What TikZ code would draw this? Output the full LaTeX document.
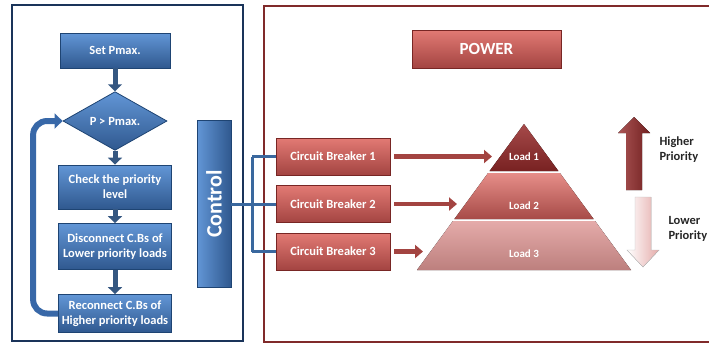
\documentclass[tikz,border=0pt]{standalone}
\usepackage{fontspec}
\setmainfont{Carlito}
\usetikzlibrary{shapes.geometric,arrows.meta}

\definecolor{boxblue}{RGB}{56,104,168}
\definecolor{boxbluetop}{RGB}{98,150,214}
\definecolor{boxblueline}{RGB}{30,68,115}
\definecolor{framblue}{RGB}{26,52,90}
\definecolor{wireblue}{RGB}{58,104,158}
\definecolor{boxred}{RGB}{192,80,77}
\definecolor{boxredtop}{RGB}{226,122,116}
\definecolor{boxredline}{RGB}{120,38,36}
\definecolor{framred}{RGB}{128,42,42}
\definecolor{loaddark}{RGB}{150,42,42}
\definecolor{loadmid}{RGB}{196,88,84}
\definecolor{loadlight}{RGB}{222,150,148}

\begin{document}
\begin{tikzpicture}[x=1pt, y=-1pt,
        font=\fontsize{12.5}{15}\selectfont\bfseries,
        bluebox/.style = {shape=rectangle, draw=boxblueline, line width=0.8pt,
        top color=boxbluetop, bottom color=boxblue!85!black, text=white,
        align=center, minimum width=113pt, inner sep=2pt},
        bluediamond/.style = {bluebox, shape=diamond, minimum width=104pt,
        minimum height=52pt, inner sep=0pt},
        redbox/.style = {shape=rectangle, draw=boxredline, line width=0.8pt,
        top color=boxredtop, bottom color=boxred!85!black, text=white,
        align=center, minimum width=114pt, minimum height=37pt},
        flowarrow/.style = {draw=boxblueline!90!white, line width=5pt,
        -{Triangle[length=7pt,width=14pt]}},
        looparrow/.style = {draw=boxblue, line width=6pt, rounded corners=14pt,
        -{Triangle[length=8pt,width=15pt]}},
        wire/.style = {draw=wireblue, line width=3pt},
        redarrow/.style = {draw=boxred!85!black, line width=4.5pt, shorten <=4pt,
        -{Triangle[length=8pt,width=13pt]}},
        loadtext/.style = {text=white, font=\fontsize{11}{13}\selectfont\bfseries},
        sidetext/.style = {text=black!85, anchor=west, align=left}]
    \useasboundingbox (0,0) rectangle (709,349);

    \draw[framblue, line width=2.5pt] (12,5) rectangle (243,341);
    \draw[framred, line width=2.5pt] (712,6) -- (264,6) -- (264,342) -- (712,342);

    \node[bluebox, minimum width=110pt, minimum height=35pt] (setp) at (115,50.5) {Set Pmax.};
    \node[bluediamond] (dia) at (115,121) {P > Pmax.};
    \node[bluebox, minimum height=44pt] (check) at (115,187) {Check the priority\\level};
    \node[bluebox, minimum height=46pt] (disc) at (115,246.5) {Disconnect C.Bs of\\Lower priority loads};
    \node[bluebox, minimum height=38pt] (recon) at (115,313.5) {Reconnect C.Bs of\\Higher priority loads};

    \draw[flowarrow] (setp.south) -- (dia.north);
    \draw[flowarrow] (dia.south) -- (check.north);
    \draw[flowarrow] (check.south) -- (disc.north);
    \draw[flowarrow] (disc.south) -- (recon.north);
    \draw[looparrow] (recon.west) -- ++(-25,0) |- (dia.west);

    \node[bluebox, left color=boxbluetop, right color=boxblue!85!black,
        minimum width=34pt, minimum height=167pt, inner sep=0pt] (ctrl) at (214,204)
        {\rotatebox{90}{\fontsize{22}{22}\selectfont Control}};

    \node[redbox, minimum width=149pt, minimum height=38pt,
        font=\fontsize{17}{17}\selectfont\bfseries] (power) at (486.5,49) {POWER};

    \node[redbox] (cb1) at (333,156.5) {Circuit Breaker 1};
    \node[redbox] (cb2) at (333,204) {Circuit Breaker 2};
    \node[redbox] (cb3) at (333,251.5) {Circuit Breaker 3};

    \coordinate (bus) at (252,204);
    \draw[wire] (ctrl.east) -- (bus);
    \draw[wire] (bus |- cb1.west) -- (bus |- cb3.west);
    \draw[wire] (bus |- cb1.west) -- (cb1.west);
    \draw[wire] (bus) -- (cb2.west);
    \draw[wire] (bus |- cb3.west) -- (cb3.west);

    \fill[top color=loaddark!85!white, bottom color=loaddark!80!black]
        (524,124) -- (558.4,171) -- (489.6,171) -- cycle;
    \fill[top color=boxredtop!85!white, bottom color=loadmid!85!black]
        (488.1,173) -- (559.9,173) -- (593.6,219) -- (454.4,219) -- cycle;
    \fill[top color=loadlight!80!white, bottom color=loadlight!85!black]
        (452.9,221) -- (595.1,221) -- (631,270) -- (417,270) -- cycle;
    \node[loadtext] (load1) at (524,157) {Load 1};
    \node[loadtext] (load2) at (524,206) {Load 2};
    \node[loadtext] (load3) at (524,254) {Load 3};

    \coordinate (in1) at (492,159);
    \coordinate (in2) at (457,206);
    \coordinate (in3) at (423,253);
    \draw[redarrow] (cb1.east) -- (cb1.east -| in1);
    \draw[redarrow] (cb2.east) -- (cb2.east -| in2);
    \draw[redarrow] (cb3.east) -- (cb3.east -| in3);

    \fill[left color=loaddark!80!white, right color=loaddark!75!black]
        (634,117) -- (650,133) -- (642,133) -- (642,190) -- (626,190)
        -- (626,133) -- (618,133) -- cycle;
    \filldraw[draw=black!25, left color=white, right color=loadlight!80!white]
        (643,267) -- (659,250) -- (651,250) -- (651,197) -- (635,197)
        -- (635,250) -- (627,250) -- cycle;

    \node[sidetext] (higher) at (656,150) {Higher\\Priority};
    \node[sidetext] (lower) at (665,229) {Lower\\Priority};
\end{tikzpicture}
\end{document}
